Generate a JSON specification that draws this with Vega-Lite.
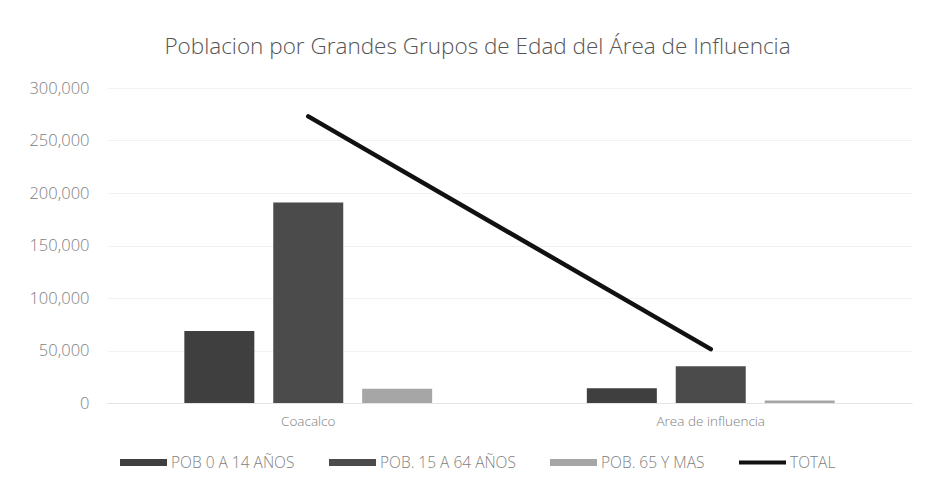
{
  "$schema": "https://vega.github.io/schema/vega-lite/v6.json",
  "autosize": "none",
  "width": 805,
  "height": 315,
  "padding": {"left": 107, "top": 88, "right": 15, "bottom": 88},
  "background": "white",
  "config": {"view": {"stroke": null}, "font": "Open Sans"},
  "title": {
    "text": "Poblacion por Grandes Grupos de Edad del Área de Influencia",
    "fontSize": 22.5,
    "fontWeight": 300,
    "color": "#555555",
    "anchor": "middle",
    "dx": -32,
    "offset": 22
  },
  "datasets": {
    "bars": [
      {"zona": "Coacalco", "grupo": "POB 0 A 14 AÑOS", "poblacion": 68500},
      {"zona": "Coacalco", "grupo": "POB. 15 A 64 AÑOS", "poblacion": 191000},
      {"zona": "Coacalco", "grupo": "POB. 65 Y MAS", "poblacion": 13500},
      {"zona": "Area de influencia", "grupo": "POB 0 A 14 AÑOS", "poblacion": 14000},
      {"zona": "Area de influencia", "grupo": "POB. 15 A 64 AÑOS", "poblacion": 35000},
      {"zona": "Area de influencia", "grupo": "POB. 65 Y MAS", "poblacion": 2300}
    ],
    "total": [
      {"zona": "Coacalco", "grupo": "TOTAL", "poblacion": 273000},
      {"zona": "Area de influencia", "grupo": "TOTAL", "poblacion": 51300}
    ]
  },
  "encoding": {
    "x": {
      "field": "zona",
      "type": "nominal",
      "sort": ["Coacalco", "Area de influencia"],
      "scale": {"paddingInner": 0, "paddingOuter": 0},
      "axis": {
        "title": null,
        "labelAngle": 0,
        "ticks": false,
        "domain": true,
        "domainColor": "#e4e4e4",
        "labelColor": "#808080",
        "labelFontSize": 13.5,
        "labelFontWeight": 300,
        "labelPadding": 11
      }
    },
    "y": {
      "field": "poblacion",
      "type": "quantitative",
      "scale": {"domain": [0, 300000], "nice": false},
      "axis": {
        "title": null,
        "values": [0, 50000, 100000, 150000, 200000, 250000, 300000],
        "format": ",d",
        "ticks": false,
        "domain": false,
        "grid": true,
        "gridColor": "#f2f2f2",
        "labelColor": "#808080",
        "labelFontSize": 16.5,
        "labelFontWeight": 300,
        "labelPadding": 18
      }
    },
    "color": {
      "field": "grupo",
      "type": "nominal",
      "scale": {
        "domain": ["POB 0 A 14 AÑOS", "POB. 15 A 64 AÑOS", "POB. 65 Y MAS", "TOTAL"],
        "range": ["#3f3f3f", "#4b4b4b", "#a6a6a6", "#111111"]
      },
      "legend": {
        "title": null,
        "orient": "none",
        "direction": "horizontal",
        "legendX": 13,
        "legendY": 351,
        "symbolType": "M-1,-0.15H1V0.15H-1Z",
        "symbolSize": 2209,
        "symbolStrokeWidth": 0,
        "labelColor": "#808080",
        "labelFontSize": 15.5,
        "labelFontWeight": 300,
        "labelOffset": 4,
        "columnPadding": 34,
        "encode": {
          "symbols": {
            "update": {
              "shape": {"signal": "datum.value === 'TOTAL' ? 'M-1,-0.09H1V0.09H-1Z' : 'M-1,-0.15H1V0.15H-1Z'"}
            }
          }
        }
      }
    }
  },
  "layer": [
    {
      "data": {"name": "bars"},
      "mark": {"type": "bar", "width": 70},
      "encoding": {
        "xOffset": {
          "field": "grupo",
          "type": "nominal",
          "sort": ["POB 0 A 14 AÑOS", "POB. 15 A 64 AÑOS", "POB. 65 Y MAS"],
          "scale": {"paddingInner": 0.213, "paddingOuter": 0.87}
        }
      }
    },
    {
      "data": {"name": "total"},
      "mark": {"type": "line", "strokeWidth": 4.5, "strokeCap": "round"},
      "encoding": {}
    }
  ]
}
